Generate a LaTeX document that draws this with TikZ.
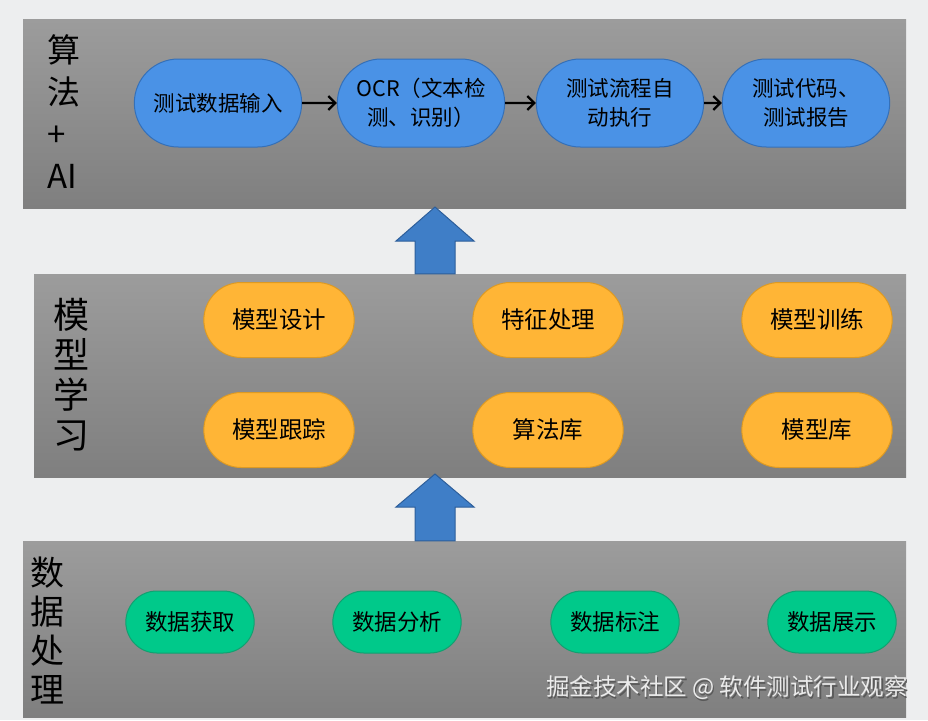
\documentclass[tikz,border=0pt]{standalone}
\usepackage{fontspec}
\setmainfont{Noto Sans CJK SC}
\usetikzlibrary{shapes.misc,arrows.meta}

\definecolor{bgpage}{HTML}{EDEEEF}
\definecolor{paneltop}{HTML}{9C9C9C}
\definecolor{panelbot}{HTML}{7F7F7F}
\definecolor{bluefill}{HTML}{4A92E6}
\definecolor{blueline}{HTML}{3570B8}
\definecolor{orangefill}{HTML}{FFB536}
\definecolor{orangeline}{HTML}{DE9A22}
\definecolor{greenfill}{HTML}{00C98A}
\definecolor{greenline}{HTML}{12A070}
\definecolor{uparrow}{HTML}{3F7EC7}
\definecolor{uparrowline}{HTML}{2D5E9A}

\tikzset{
  panel/.style={rectangle, inner sep=0pt, top color=paneltop, bottom color=panelbot},
  sidelabel/.style={anchor=west, align=left, inner sep=0pt},
  stage/.style={rounded rectangle, draw=blueline, fill=bluefill, line width=1pt,
    minimum width=174pt, minimum height=88pt, align=center,
    font=\fontsize{21.5}{29}\selectfont},
  modelbox/.style={rounded rectangle, draw=orangeline, fill=orangefill, line width=1pt,
    minimum width=157pt, minimum height=75pt, font=\fontsize{23.5}{28}\selectfont},
  databox/.style={rounded rectangle, draw=greenline, fill=greenfill, line width=1pt,
    minimum width=135pt, minimum height=62pt, font=\fontsize{22.5}{27}\selectfont},
  flow/.style={-{Straight Barb[length=7pt,width=14pt]}, line width=2.2pt, black},
  bigarrow/.style={fill=uparrow, draw=uparrowline, line width=1pt}
}

\begin{document}
\begin{tikzpicture}[x=1pt,y=-1pt]
\useasboundingbox (0,0) rectangle (928,720);
\fill[bgpage] (0,0) rectangle (928,720);

% three layers
\node[panel, minimum width=883pt, minimum height=189pt] (algo) at (464.5,113.5) {};
\node[panel, minimum width=872pt, minimum height=203pt] (model) at (470,375.5) {};
\node[panel, minimum width=883pt, minimum height=176pt] (data) at (464.5,629) {};

\node[sidelabel, font=\fontsize{33}{42}\selectfont] (algolabel) at (47,112) {算\\法\\+\\AI};
\node[sidelabel, font=\fontsize{36}{40}\selectfont] (modellabel) at (53,375) {模\\型\\学\\习};
\node[sidelabel, font=\fontsize{34}{39}\selectfont] (datalabel) at (30,630) {数\\据\\处\\理};

% algorithm + AI flow
\node[stage] (input) at (218,103) {测试数据输入};
\node[stage] (ocr) at (421,103) {OCR（文本检\\测、识别）};
\node[stage] (auto) at (620,103) {测试流程自\\动执行};
\node[stage] (report) at (806,103) {测试代码、\\测试报告};

\draw[flow] (input) -- (ocr);
\draw[flow] (ocr) -- (auto);
\draw[flow] (auto) -- (report);

% model learning
\node[modelbox] (design) at (279,320) {模型设计};
\node[modelbox] (feature) at (548,320) {特征处理};
\node[modelbox] (train) at (817,320) {模型训练};
\node[modelbox] (track) at (279,430) {模型跟踪};
\node[modelbox] (algolib) at (548,430) {算法库};
\node[modelbox] (modellib) at (817,430) {模型库};

% data processing
\node[databox] (fetch) at (190,622) {数据获取};
\node[databox] (analyse) at (397,622) {数据分析};
\node[databox] (mark) at (615,622) {数据标注};
\node[databox] (show) at (832,622) {数据展示};

% block arrows between layers
\draw[bigarrow] (model.north -| 415,0) -- (415,241) -- (396,241) -- (435,207)
  -- (474,241) -- (455,241) -- (model.north -| 455,0) -- cycle;
\draw[bigarrow] (data.north -| 415,0) -- (415,507) -- (396,507) -- (435,474)
  -- (474,507) -- (455,507) -- (data.north -| 455,0) -- cycle;

% watermark
\node[text=black!65, font=\fontsize{23.5}{28}\selectfont] (markshadow) at (728.5,689.5) {掘金技术社区 @ 软件测试行业观察};
\node[text=white!92!black, font=\fontsize{23.5}{28}\selectfont] (watermark) at (727,688) {掘金技术社区 @ 软件测试行业观察};
\end{tikzpicture}
\end{document}
